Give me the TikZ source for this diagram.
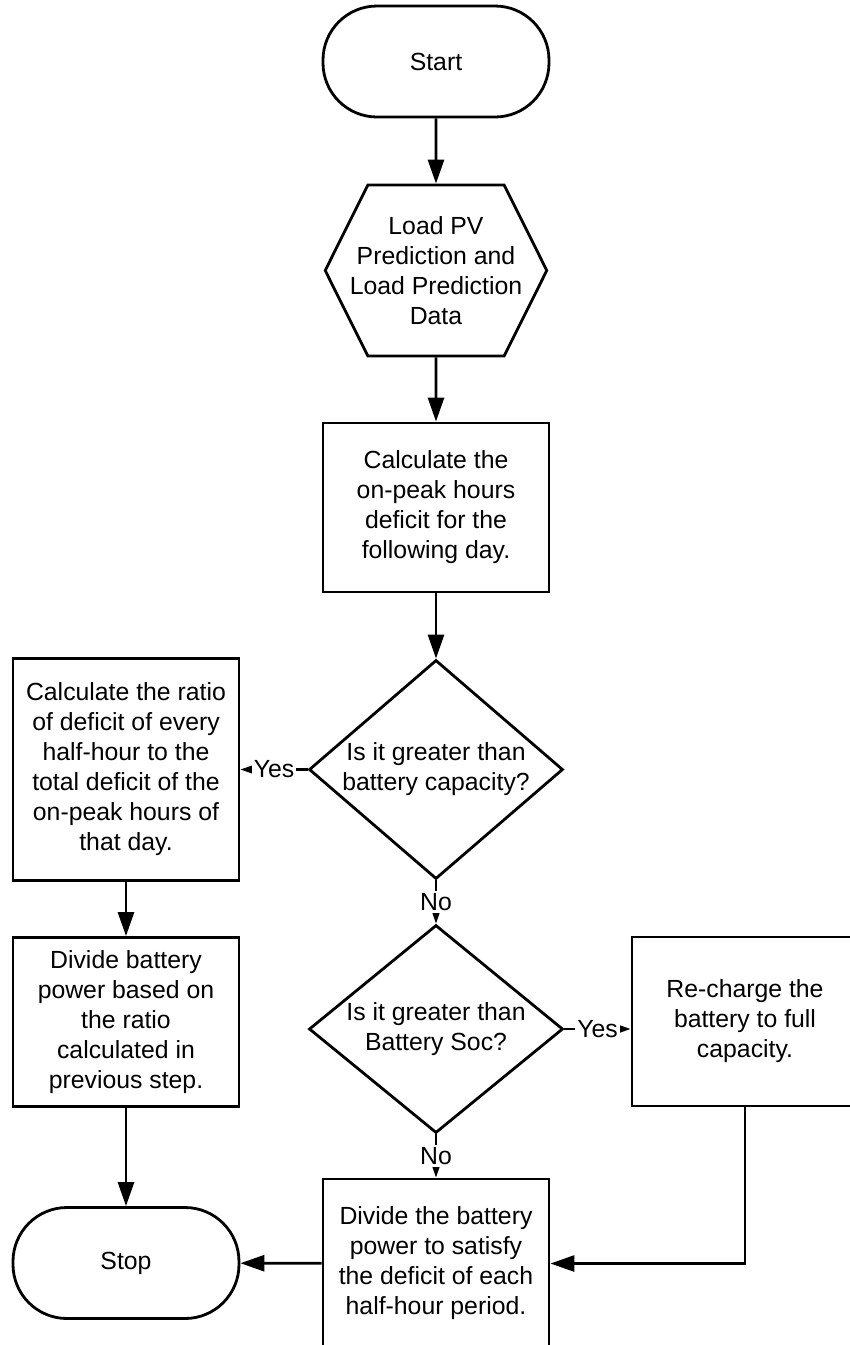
\documentclass[tikz,border=0pt]{standalone}
\usepackage{fontspec}
\setmainfont{Liberation Sans}
\usetikzlibrary{positioning,shapes.geometric,shapes.symbols,arrows.meta}

\begin{document}
\begin{tikzpicture}[->, >={Triangle[length=12pt,width=8pt]}, line width=1.4pt, node distance=120pt,
    terminal/.style={rectangle, draw, rounded corners=27pt, minimum width=113pt, minimum height=55.5pt},
    hexa/.style={signal, signal to=west and east, signal pointer angle=127, draw, align=center, inner xsep=-9pt, minimum height=85.5pt},
    process/.style={rectangle, draw, align=center, minimum width=113pt, minimum height=84.5pt},
    decision/.style={diamond, draw, align=center, inner xsep=-25pt, minimum width=127pt, minimum height=109.5pt},
    answer/.style={fill=white, inner sep=1pt}]
        \tikzstyle{every node}=[font=\fontsize{12.4}{15}\selectfont]
        \useasboundingbox (-218pt,30.75pt) rectangle (207pt,-641.75pt);

          \node[terminal] (start) {Start};
          \node[hexa] (load) [below of=start, node distance=104.5pt] {Load PV\\Prediction and\\Load Prediction\\Data};
          \node[process] (calc) [below of=load, node distance=118.5pt] {Calculate the\\on-peak hours\\deficit for the\\following day.};
          \node[decision] (cap) [below of=calc, node distance=131pt] {Is it greater than\\battery capacity?};
          \node[process, minimum height=111pt] (ratio) [left of=cap, node distance=155pt] {Calculate the ratio\\of deficit of every\\half-hour to the\\total deficit of the\\on-peak hours of\\that day.};
          \node[process] (split) [below of=ratio, node distance=126.25pt] {Divide battery\\power based on\\the ratio\\calculated in\\previous step.};
          \node[terminal] (stop) [below of=split, node distance=120.5pt] {Stop};
          \node[decision, minimum height=104pt] (soc) [below of=cap, node distance=129.75pt] {Is it greater than\\Battery Soc?};
          \node[process] (charge) [right of=soc, node distance=154.5pt, yshift=3.75pt] {Re-charge the\\battery to full\\capacity.};
          \node[process] (share) [below of=soc, node distance=117.25pt] {Divide the battery\\power to satisfy\\the deficit of each\\half-hour period.};

          \path
            (start) edge (load)
            (load) edge (calc)
            (calc) edge (cap)
            (cap) edge node [answer] {Yes} (ratio)
                edge node [answer] {No} (soc)
            (ratio) edge (split)
            (split) edge (stop)
            (soc) edge node [answer] {Yes} (soc.east -| charge.west)
                edge node [answer] {No} (share)
            (share) edge (stop);
          \draw (charge) |- (share);

\end{tikzpicture}
\end{document}
